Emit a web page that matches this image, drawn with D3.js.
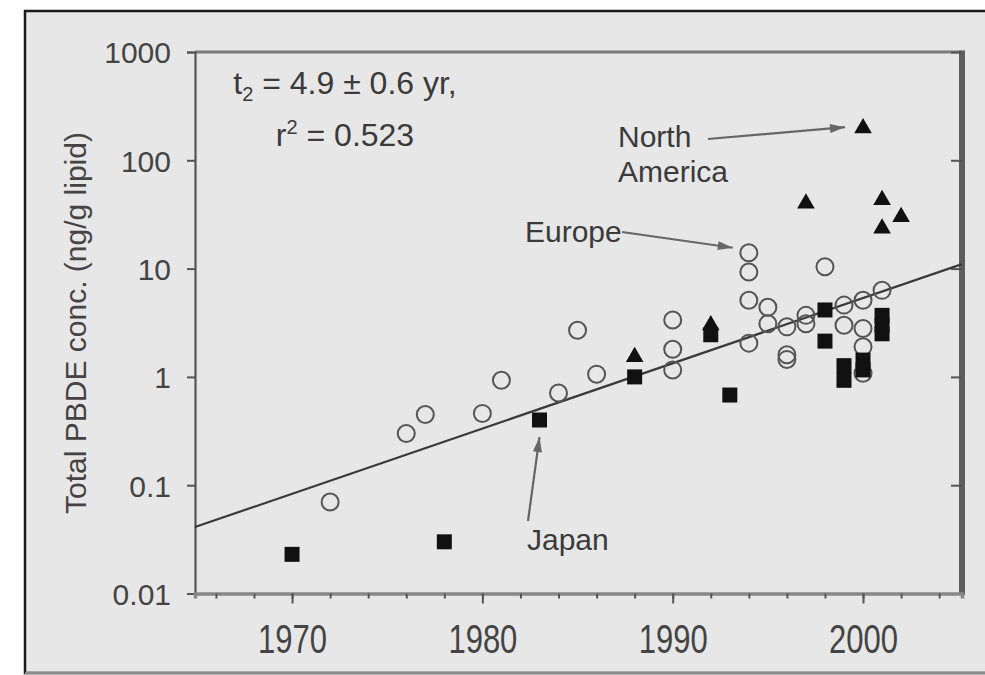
<!DOCTYPE html>
<html><head><meta charset="utf-8">
<script src="https://cdn.jsdelivr.net/npm/d3@7"></script>
<style>body{margin:0;background:#fff}svg{display:block}</style>
</head><body>
<svg id="chart" width="985" height="675"></svg>
<script>
// ---- data ----
const europeYears  = [1972, 1976, 1977, 1980, 1981, 1984, 1985, 1986, 1990, 1990, 1990,
                      1994, 1994, 1994, 1994, 1995, 1995, 1996, 1996, 1996, 1997, 1997,
                      1998, 1999, 1999, 2000, 2000, 2000, 2000, 2001];
const europeValues = [0.07, 0.30, 0.45, 0.46, 0.93, 0.71, 2.7, 1.06, 3.35, 1.8, 1.16,
                      14.0, 9.3, 5.1, 2.05, 4.4, 3.1, 2.9, 1.6, 1.45, 3.7, 3.1,
                      10.4, 4.6, 3.0, 5.1, 2.8, 1.9, 1.08, 6.3];
const japanYears   = [1970, 1978, 1983, 1988, 1992, 1993, 1998, 1998, 1999, 1999, 2000, 2000, 2001, 2001, 2001];
const japanValues  = [0.023, 0.030, 0.40, 1.0, 2.45, 0.68, 4.15, 2.14, 1.27, 0.93, 1.43, 1.16, 3.7, 3.0, 2.5];
const naYears      = [1988, 1992, 1997, 2000, 2001, 2001, 2002];
const naValues     = [1.53, 3.0, 40, 198, 43, 23.5, 30];
const trendYears   = [1964.9, 2005.2];
const trendValues  = [0.0411, 11.0];
const yTickValues  = [0.01, 0.1, 1, 10, 100, 1000];
const xMajorTicks  = [1970, 1980, 1990, 2000];
const xMinorTicks  = d3.range(1966, 2005, 2);
const fitLine1 = "= 4.9 ± 0.6 yr,";
const fitLine2 = "= 0.523";

// ---- layout ----
const svg = d3.select("#chart");
const L = 195, R = 962, T = 52, B = 593.5;
const x = d3.scaleLinear().domain([1964.9, 2005.2]).range([L, R]);
const y = d3.scaleLog().domain([0.01, 1000]).range([B, T]);
const font = "'Liberation Sans', Arial, sans-serif";

// frame
svg.append("rect").attr("x", 25).attr("y", 11).attr("width", 975).attr("height", 662)
  .attr("fill", "#e7e7e7").attr("stroke", "#1a1a1a").attr("stroke-width", 2.5);
svg.append("line").attr("x1", 25).attr("x2", 985).attr("y1", 673).attr("y2", 673)
  .attr("stroke", "#8a8a8a").attr("stroke-width", 2.5);

// plot border lines
svg.append("line").attr("x1", L).attr("x2", R).attr("y1", T).attr("y2", T)
  .attr("stroke", "#7a7a7a").attr("stroke-width", 3);
svg.append("line").attr("x1", R).attr("x2", R).attr("y1", T - 1.5).attr("y2", B + 1.5)
  .attr("stroke", "#5e5e5e").attr("stroke-width", 6);

// left axis
const gl = svg.append("g").attr("transform", `translate(${L},0)`)
  .call(d3.axisLeft(y).tickValues(yTickValues).tickFormat(d3.format("~g"))
        .tickSize(8).tickPadding(16));
gl.select(".domain").attr("stroke", "#555").attr("stroke-width", 2.2);
gl.selectAll(".tick line").attr("stroke", "#555").attr("stroke-width", 2);
gl.selectAll(".tick text").attr("font-family", font).attr("font-size", 30)
  .attr("fill", "#444").attr("dy", "0.36em");

// right axis (inward ticks)
const gr = svg.append("g").attr("transform", `translate(${R},0)`)
  .call(d3.axisRight(y).tickValues(yTickValues).tickFormat("").tickSize(-11));
gr.select(".domain").remove();
gr.selectAll(".tick line").attr("stroke", "#555").attr("stroke-width", 2);

// bottom axis minor
const gbm = svg.append("g").attr("transform", `translate(0,${B})`)
  .call(d3.axisBottom(x).tickValues(xMinorTicks).tickFormat("").tickSize(5));
gbm.select(".domain").attr("stroke", "#888").attr("stroke-width", 3.5);
gbm.selectAll(".tick line").attr("stroke", "#555").attr("stroke-width", 2);
// bottom axis major with labels
const gb = svg.append("g").attr("transform", `translate(0,${B})`)
  .call(d3.axisBottom(x).tickValues(xMajorTicks).tickFormat(d3.format("d")).tickSize(10));
gb.select(".domain").remove();
gb.selectAll(".tick line").attr("stroke", "#555").attr("stroke-width", 2);
gb.selectAll(".tick text").attr("font-family", font).attr("font-size", 31)
  .attr("fill", "#444").attr("y", 45.5).attr("dy", 0)
  .attr("transform", "scale(1,1.3)");

// y title
svg.append("text").attr("transform", "translate(86,323) rotate(-90)")
  .attr("text-anchor", "middle").attr("font-family", font).attr("font-size", 30)
  .attr("fill", "#444").text("Total PBDE conc. (ng/g lipid)");

// trend line
svg.append("path")
  .datum(trendYears.map((d, i) => [d, trendValues[i]]))
  .attr("d", d3.line().x(d => x(d[0])).y(d => y(d[1])))
  .attr("stroke", "#3a3a3a").attr("stroke-width", 2.2).attr("fill", "none");

// Europe circles
svg.append("g").selectAll("circle")
  .data(europeYears.map((d, i) => [d, europeValues[i]]))
  .join("circle")
  .attr("cx", d => x(d[0])).attr("cy", d => y(d[1])).attr("r", 8.5)
  .attr("fill", "none").attr("stroke", "#555").attr("stroke-width", 2);

// Japan squares
svg.append("g").selectAll("path")
  .data(japanYears.map((d, i) => [d, japanValues[i]]))
  .join("path")
  .attr("d", d3.symbol(d3.symbolSquare, 225))
  .attr("transform", d => `translate(${x(d[0])},${y(d[1])})`)
  .attr("fill", "#111");

// North America triangles
svg.append("g").selectAll("path")
  .data(naYears.map((d, i) => [d, naValues[i]]))
  .join("path")
  .attr("d", d3.symbol(d3.symbolTriangle, 135))
  .attr("transform", d => `translate(${x(d[0])},${y(d[1])})`)
  .attr("fill", "#111");

// annotations
function arrow(x1, y1, x2, y2) {
  svg.append("line").attr("x1", x1).attr("y1", y1).attr("x2", x2).attr("y2", y2)
    .attr("stroke", "#666").attr("stroke-width", 2.2);
  const a = Math.atan2(y2 - y1, x2 - x1), len = 15, w = 4.5;
  const bx = x2 - len * Math.cos(a), by = y2 - len * Math.sin(a);
  const px = -Math.sin(a) * w, py = Math.cos(a) * w;
  svg.append("path")
    .attr("d", `M${x2},${y2}L${bx + px},${by + py}L${bx - px},${by - py}Z`)
    .attr("fill", "#666");
}
const txt = (tx, ty, s, anchor) => svg.append("text").attr("x", tx).attr("y", ty)
  .attr("font-family", font).attr("font-size", 30).attr("fill", "#3a3a3a")
  .attr("text-anchor", anchor || "start").text(s);

// North America
txt(618, 147, "North");
txt(618, 182, "America");
arrow(708, 139, x(2000) - 18, y(198) - 1);
// Europe
txt(525, 242, "Europe");
arrow(622, 232, x(1994) - 16, y(14.0) - 5);
// Japan
txt(527, 550, "Japan");
arrow(528, 521, x(1983), y(0.40) + 17);

// fit statistics
const t1 = svg.append("text").attr("x", 345).attr("y", 94).attr("text-anchor", "middle")
  .attr("font-family", font).attr("font-size", 32).attr("fill", "#3a3a3a");
t1.append("tspan").text("t");
t1.append("tspan").attr("font-size", 20).attr("dy", 7).text("2");
t1.append("tspan").attr("dy", -7).text(" " + fitLine1);
const t2 = svg.append("text").attr("x", 345).attr("y", 146).attr("text-anchor", "middle")
  .attr("font-family", font).attr("font-size", 32).attr("fill", "#3a3a3a");
t2.append("tspan").text("r");
t2.append("tspan").attr("font-size", 20).attr("dy", -12).text("2");
t2.append("tspan").attr("dy", 12).text(" " + fitLine2);
</script>
</body></html>
